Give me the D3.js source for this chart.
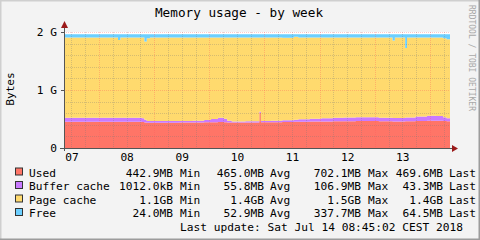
<!DOCTYPE html>
<html lang="en">
<head>
  <meta charset="UTF-8">
  <title>Memory usage - by week</title>
  <style>
    html, body { margin: 0; padding: 0; background: #fff; }
    svg { display: block; }
  </style>
</head>
<body>
  <script src="https://cdn.jsdelivr.net/npm/d3@7"></script>
  <script>
    // hours since Sat Jul 07 08:45, values in MB (base 1024)
    const hours  = [0, 6, 12, 18, 23.5, 24.5, 30, 34, 35, 36, 37.4, 44, 50, 56, 61, 64, 67, 69.6, 71, 73, 79, 85, 85.7, 90, 95, 100, 102, 107, 112, 117, 122, 127, 132, 137, 143, 144, 148.5, 149.3, 153, 158, 162, 165, 166.5, 168];
    const used   = [462, 465, 462, 464, 464, 464, 463, 460, 452, 448, 447, 448, 450, 452, 454, 456, 460, 456, 449, 450, 451, 620, 455, 456, 458, 462, 465, 468, 470, 472, 473, 475, 476, 474, 470, 470, 472, 472, 478, 480, 479, 476, 472, 470];
    const buffer = [72, 70, 72, 72, 72, 72, 72, 66, 45, 30, 28, 27, 26, 30, 40, 55, 72, 62, 30, 20, 20, 22, 22, 25, 30, 36, 42, 48, 54, 60, 64, 66, 66, 62, 60, 60, 66, 66, 78, 88, 85, 68, 52, 43];
    const page   = [1415, 1414, 1415, 1413, 1371, 1413, 1414, 1423, 1385, 1459, 1474, 1474, 1473, 1467, 1455, 1438, 1417, 1431, 1470, 1479, 1478, 1307, 1472, 1471, 1459, 1464, 1442, 1433, 1425, 1417, 1412, 1408, 1407, 1413, 1367, 1419, 1229, 1411, 1393, 1381, 1385, 1393, 1398, 1409];
    const free   = [58, 58, 58, 58, 100, 58, 58, 58, 125, 70, 58, 58, 58, 58, 58, 58, 58, 58, 58, 58, 58, 58, 58, 55, 60, 45, 58, 58, 58, 58, 58, 58, 58, 58, 110, 58, 240, 58, 58, 58, 58, 70, 85, 85];

    const seriesNames  = ["Used", "Buffer cache", "Page cache", "Free"];
    const seriesKeys   = ["used", "buffer", "page", "free"];
    const seriesColors = ["#FF7567", "#C97AFF", "#FFDA6E", "#6CCFFF"];
    const legendMin  = ["442.9MB", "1012.0kB", "1.1GB", "24.0MB"];
    const legendAvg  = ["465.0MB", "55.8MB", "1.4GB", "52.9MB"];
    const legendMax  = ["702.1MB", "106.9MB", "1.5GB", "337.7MB"];
    const legendLast = ["469.6MB", "43.3MB", "1.4GB", "64.5MB"];

    const dayLabels = ["07", "08", "09", "10", "11", "12", "13"];
    const yTicks = [0, 1024, 2048];
    const yTickLabels = ["0", "1 G", "2 G"];

    const [width, height] = [480, 240];
    const plot = { left: 64, right: 450, top: 32, bottom: 148 };
    const mono = "'DejaVu Sans Mono', monospace";

    const t0 = Date.UTC(2018, 6, 7, 8, 45);
    const t1 = Date.UTC(2018, 6, 14, 8, 45);
    const rows = hours.map((h, i) => ({
      t: new Date(t0 + h * 3600e3),
      used: used[i], buffer: buffer[i], page: page[i], free: free[i]
    }));

    const x = d3.scaleUtc().domain([new Date(t0), new Date(t1)]).range([plot.left, plot.right]);
    const y = d3.scaleLinear().domain([0, 2048]).range([plot.bottom, plot.top]);

    const svg = d3.select(document.body).append("svg")
      .attr("width", width).attr("height", height)
      .attr("viewBox", [0, 0, width, height])
      .attr("font-family", mono);

    // canvas with rrdtool style shaded frame
    svg.append("rect").attr("width", width).attr("height", height).attr("fill", "#F3F3F3");
    svg.append("path").attr("d", `M0,${height} V0 H${width}`).attr("fill", "none").attr("stroke", "#CFCFCF").attr("stroke-width", 3);
    svg.append("path").attr("d", `M0,${height} H${width} V0`).attr("fill", "none").attr("stroke", "#9C9C9C").attr("stroke-width", 3);

    svg.append("rect")
      .attr("x", plot.left).attr("y", plot.top)
      .attr("width", plot.right - plot.left).attr("height", plot.bottom - plot.top)
      .attr("fill", "#fff");

    // stacked areas
    const stack = d3.stack().keys(seriesKeys);
    const layers = stack(rows);
    const area = d3.area()
      .curve(d3.curveStepAfter)
      .x(d => x(d.data.t))
      .y0(d => y(d[0]))
      .y1(d => y(d[1]));
    svg.append("g")
      .selectAll("path")
      .data(layers)
      .join("path")
      .attr("fill", (d, i) => seriesColors[i])
      .attr("d", area);

    // grid
    const minorColor = "rgba(120,120,120,0.3)";
    const majorColor = "rgba(255,90,90,0.32)";
    const grid = svg.append("g").attr("fill", "none").attr("stroke-width", 1).attr("stroke-dasharray", "1,1");
    const minorY = d3.range(0, 2048 + 1, 204.8).filter(v => v % 1024 > 1 && v % 1024 < 1023);
    grid.selectAll(".hy").data(minorY).join("line")
      .attr("x1", plot.left).attr("x2", plot.right)
      .attr("y1", d => Math.round(y(d)) + 0.5).attr("y2", d => Math.round(y(d)) + 0.5)
      .attr("stroke", minorColor);
    const sixHours = d3.utcHour.every(6).range(new Date(t0), new Date(t1)).filter(d => d.getUTCHours() !== 0);
    grid.selectAll(".vx").data(sixHours).join("line")
      .attr("x1", d => Math.round(x(d)) + 0.5).attr("x2", d => Math.round(x(d)) + 0.5)
      .attr("y1", plot.top).attr("y2", plot.bottom)
      .attr("stroke", minorColor);
    grid.selectAll(".my").data(yTicks.slice(1)).join("line")
      .attr("x1", plot.left - 2).attr("x2", plot.right)
      .attr("y1", d => Math.round(y(d)) + 0.5).attr("y2", d => Math.round(y(d)) + 0.5)
      .attr("stroke", majorColor);
    const days = d3.utcDay.range(new Date(t0), new Date(t1));
    grid.selectAll(".mx").data(days).join("line")
      .attr("x1", d => Math.round(x(d)) + 0.5).attr("x2", d => Math.round(x(d)) + 0.5)
      .attr("y1", plot.top).attr("y2", plot.bottom + 2)
      .attr("stroke", majorColor);

    // axes
    svg.append("g")
      .attr("transform", `translate(${plot.left},0)`)
      .call(d3.axisLeft(y).tickValues(yTicks).tickFormat((d, i) => yTickLabels[i]).tickSize(3).tickPadding(4))
      .call(g => g.select(".domain").remove())
      .call(g => g.selectAll(".tick line").attr("stroke", "#555"))
      .call(g => g.selectAll("text").attr("font-family", mono).attr("font-size", 11.2).attr("fill", "#000").attr("dy", "0.35em"));

    svg.append("g")
      .attr("transform", `translate(0,${plot.bottom})`)
      .call(d3.axisBottom(x)
        .tickValues(dayLabels.map(d => new Date(Date.UTC(2018, 6, +d, 12))))
        .tickFormat((d, i) => dayLabels[i])
        .tickSize(0).tickPadding(5))
      .call(g => g.select(".domain").remove())
      .call(g => g.selectAll("text").attr("font-family", mono).attr("font-size", 11.2).attr("fill", "#000"));

    svg.append("line")
      .attr("x1", plot.left + 0.5).attr("x2", plot.left + 0.5)
      .attr("y1", plot.bottom + 3).attr("y2", plot.top - 6)
      .attr("stroke", "#555");
    svg.append("line")
      .attr("x1", plot.left - 4).attr("x2", plot.right + 3)
      .attr("y1", plot.bottom + 0.5).attr("y2", plot.bottom + 0.5)
      .attr("stroke", "#555");
    svg.append("path")
      .attr("d", `M${plot.left - 3},${plot.top - 4} L${plot.left + 0.5},${plot.top - 11} L${plot.left + 4},${plot.top - 4}Z`)
      .attr("fill", "#9B1A1A");
    svg.append("path")
      .attr("d", `M${plot.right + 2},${plot.bottom - 3} L${plot.right + 8},${plot.bottom + 0.5} L${plot.right + 2},${plot.bottom + 4}Z`)
      .attr("fill", "#9B1A1A");

    // titles
    svg.append("text")
      .attr("x", 239).attr("y", 17)
      .attr("text-anchor", "middle")
      .attr("font-size", 12.7)
      .text("Memory usage - by week");
    svg.append("text")
      .attr("transform", `translate(14,89) rotate(-90)`)
      .attr("text-anchor", "middle")
      .attr("font-size", 11.2)
      .text("Bytes");
    svg.append("text")
      .attr("transform", `translate(469,5) rotate(90)`)
      .attr("font-size", 8)
      .attr("fill", "#A8A8A8")
      .text("RRDTOOL / TOBI OETIKER");

    // legend
    const legend = svg.append("g").attr("font-size", 11.2).attr("fill", "#000");
    const rowsY = [176.5, 190, 203.5, 217];
    seriesNames.forEach((name, i) => {
      const g = legend.append("g").attr("transform", `translate(0,${rowsY[i]})`);
      g.append("rect").attr("x", 15.5).attr("y", -8.5).attr("width", 7).attr("height", 7)
        .attr("fill", seriesColors[i]).attr("stroke", "#333");
      g.append("text").attr("x", 29).text(name);
      g.append("text").attr("x", 173).attr("text-anchor", "end").text(legendMin[i]);
      g.append("text").attr("x", 180).text("Min");
      g.append("text").attr("x", 264).attr("text-anchor", "end").text(legendAvg[i]);
      g.append("text").attr("x", 270).text("Avg");
      g.append("text").attr("x", 361).attr("text-anchor", "end").text(legendMax[i]);
      g.append("text").attr("x", 368).text("Max");
      g.append("text").attr("x", 443).attr("text-anchor", "end").text(legendLast[i]);
      g.append("text").attr("x", 449).text("Last");
    });
    legend.append("text")
      .attr("x", 180).attr("y", 230.5)
      .text("Last update: Sat Jul 14 08:45:02 CEST 2018");
  </script>
</body>
</html>
